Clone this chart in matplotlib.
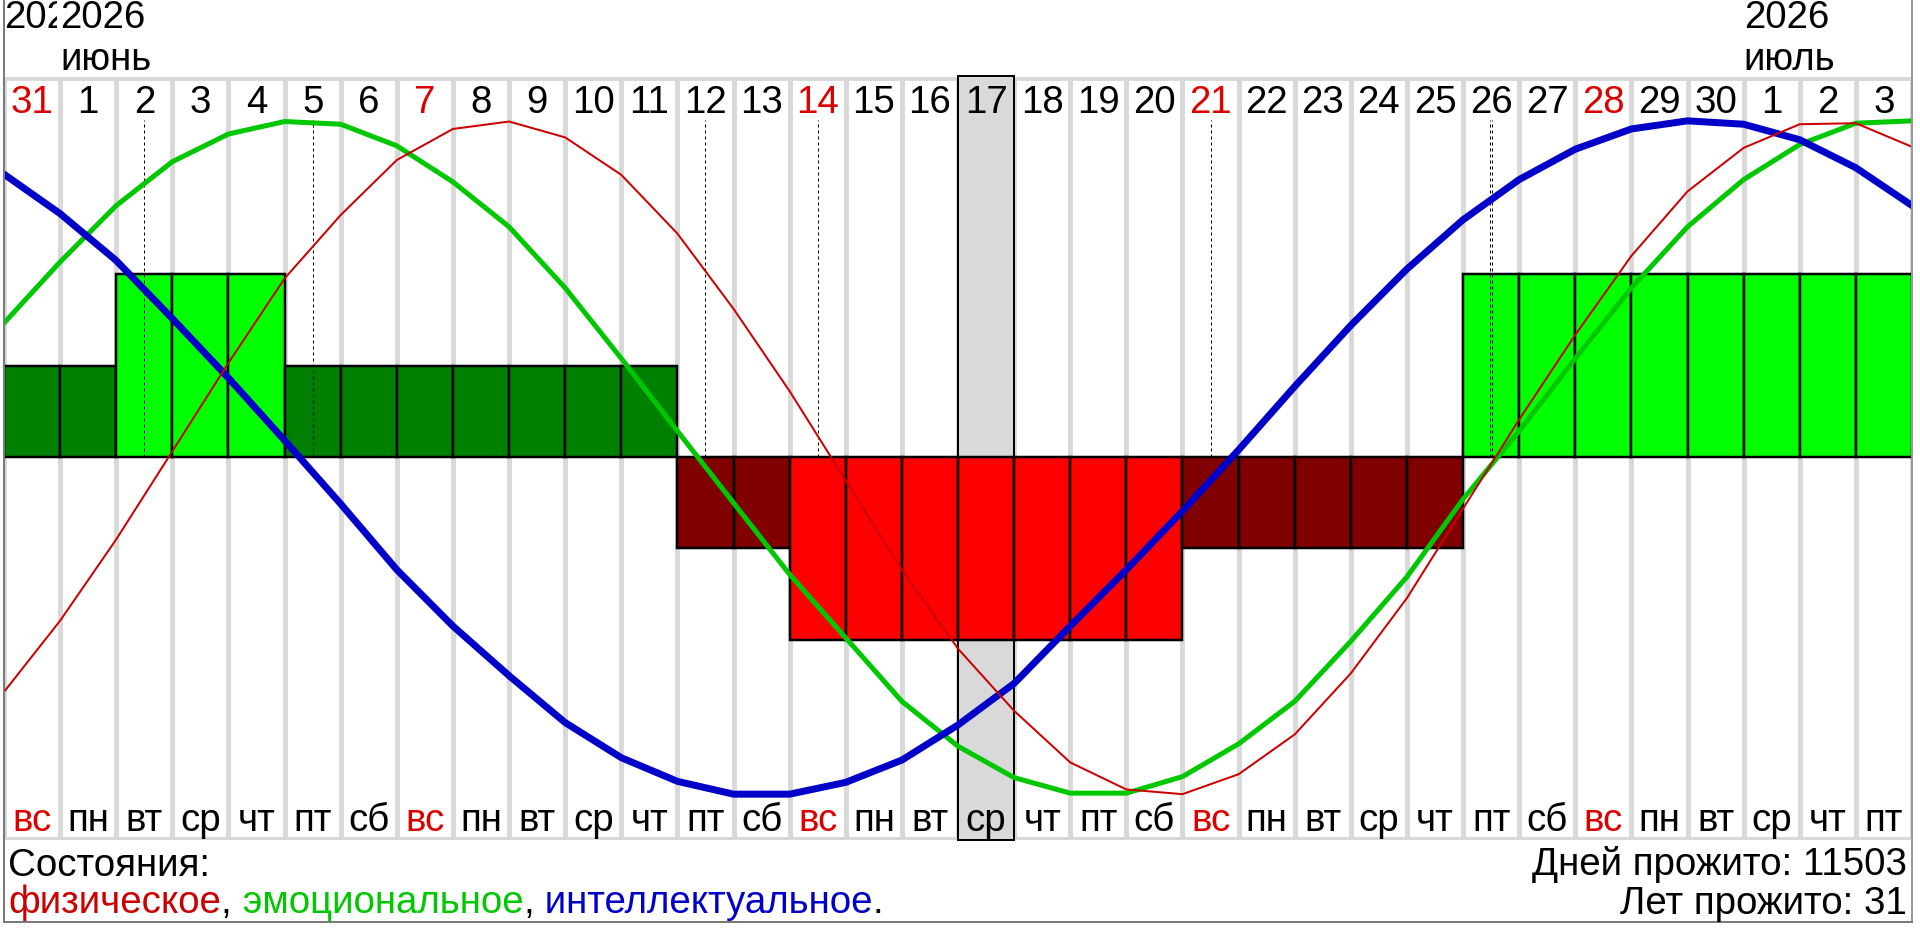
import numpy as np
import matplotlib
matplotlib.use("Agg")
import matplotlib.pyplot as plt
import matplotlib.patches as patches

plt.rcParams['font.family'] = ['Liberation Sans', 'DejaVu Sans']

# --- данные графика ---
day_numbers = [31, 1, 2, 3, 4, 5, 6, 7, 8, 9, 10, 11, 12, 13, 14, 15, 16, 17,
               18, 19, 20, 21, 22, 23, 24, 25, 26, 27, 28, 29, 30, 1, 2, 3]
week_days = ("вс пн вт ср чт пт сб вс пн вт ср чт пт сб вс пн вт ср чт пт сб "
             "вс пн вт ср чт пт сб вс пн вт ср чт пт").split()
# год, месяц, колонка первого дня
month_labels = [("2026", "", 0), ("2026", "июнь", 1), ("2026", "июль", 31)]

# значения биоритмов на границах дней, %
physical = [-69.6, -48.5, -24.4, 1.7, 27.9, 52.9, 71.7, 88.0, 97.2, 99.4, 94.7,
            83.6, 66.2, 43.9, 19.5, -7.0, -33.4, -56.8, -75.2, -90.5, -98.5,
            -99.9, -94.0, -82.2, -64.1, -41.8, -15.3, 11.1, 36.2, 59.6, 78.7,
            91.6, 98.6, 98.9, 91.9]
emotional = [39.7, 57.8, 74.5, 87.5, 95.7, 99.4, 98.6, 92.2, 81.5, 68.2, 50.1,
             29.2, 7.7, -13.6, -34.8, -53.6, -72.4, -85.7, -95.0, -99.6, -99.6,
             -94.7, -85.0, -72.4, -54.6, -35.5, -12.5, 7.7, 29.2, 50.1, 68.2,
             82.2, 92.6, 98.9, 99.6]
intellectual = [83.8, 72.1, 58.2, 41.0, 23.4, 4.9, -13.9, -33.4, -50.1, -64.8,
                -78.7, -89.1, -96.1, -99.9, -99.9, -96.4, -89.8, -79.4, -67.1,
                -50.1, -33.4, -16.0, 2.1, 20.9, 39.0, 55.7, 70.3, 82.2, 91.2,
                97.2, 99.6, 98.6, 94.0, 85.7, 74.5]

# общее состояние дня: 2 / 1 / -1 / -2
day_state = [1, 1, 2, 2, 2, 1, 1, 1, 1, 1, 1, 1, -1, -1, -2, -2, -2, -2, -2,
             -2, -2, -1, -1, -1, -1, -1, 2, 2, 2, 2, 2, 2, 2, 2]
# критические дни (номер колонки), 26-я - двойной
critical_days = [2, 5, 12, 14, 21, 26, 26]
selected_day = 17
days_lived = 11503
years_lived = 31

# --- оформление ---
W, H = 1920, 929
PX = 72 / 100          # pt на пиксель
FS = 27.7
RED_TXT = '#dd0000'
C_PHYS, C_EMO, C_INT = '#cc0000', '#00c800', '#0000c8'
state_colors = {2: '#00ff00', 1: '#008000', -1: '#800000', -2: '#ff0000'}
STATE_UNIT = 27.1

left_px, right_px, top_px, bot_px = 4, 1912, 77, 841
zero_px, amp_px = 458, 337.5

fig = plt.figure(figsize=(W / 100, H / 100), dpi=100)
fig.patch.set_facecolor('white')
ax = fig.add_axes([left_px / W, 1 - bot_px / H,
                   (right_px - left_px) / W, (bot_px - top_px) / H])
n = len(day_numbers)
y0 = (zero_px - bot_px) / amp_px * 100
y1 = (zero_px - top_px) / amp_px * 100
ax.set_xlim(0, n)
ax.set_ylim(y0, y1)
ax.axis('off')

# сетка
ax.vlines(np.arange(n + 1), -113.2, 112, color='#d9d9d9', lw=5 * PX, zorder=1)
ax.hlines([112, -113.2], 0, n, color='#d9d9d9', lw=4 * PX, zorder=1)

# выбранный день
sel = day_numbers.index(selected_day)
ax.add_patch(patches.Rectangle((sel, y0), 1, y1 - y0, facecolor='#d9d9d9',
                               edgecolor='black', lw=2 * PX, zorder=2,
                               clip_on=False))

# состояния
ax.bar(np.arange(n), np.array(day_state) * STATE_UNIT, width=1, align='edge',
       color=[state_colors[s] for s in day_state], edgecolor='black',
       linewidth=2.5 * PX, zorder=3)

# критические дни
counts = {c: critical_days.count(c) for c in set(critical_days)}
for c, cnt in counts.items():
    for j in range(cnt):
        dx = (j - (cnt - 1) / 2) * 0.036
        ax.vlines(c + 0.5 + dx, 0, 100, color='black', lw=1 * PX,
                  linestyles=(0, (3, 3)), zorder=4)

# кривые
x = np.arange(n + 1)
ax.plot(x, emotional, color=C_EMO, lw=5 * PX, zorder=5)
ax.plot(x, intellectual, color=C_INT, lw=7 * PX, zorder=6)
ax.plot(x, physical, color=C_PHYS, lw=2 * PX, zorder=7)

# подписи дней
for i, (d, w) in enumerate(zip(day_numbers, week_days)):
    col = RED_TXT if w == 'вс' else 'black'
    ax.text(i + 0.5, 102.2, str(d), ha='center', va='baseline', fontsize=FS,
            color=col, zorder=8)
    ax.text(i + 0.5, -110.5, w, ha='center', va='baseline', fontsize=FS,
            color=col, zorder=8)

# год и месяц
for year, month, c in month_labels:
    bb = dict(facecolor='white', edgecolor='none',
              boxstyle='square,pad=0.08') if c > 0 else None
    ax.text(c, 127.4, year, ha='left', va='baseline', fontsize=FS,
            bbox=bb, zorder=9 + c)
    if month:
        ax.text(c, 115.0, month, ha='left', va='baseline', fontsize=FS,
                zorder=9 + c)

# нижние надписи и рамка
ov = fig.add_axes([0, 0, 1, 1], zorder=10)
ov.set_xlim(0, W)
ov.set_ylim(H, 0)
ov.axis('off')
ov.plot([3.5, 3.5], [0, 923], color='#7a7a7a', lw=2 * PX)
ov.plot([1912, 1912], [0, 923], color='#9a9a9a', lw=2 * PX)
ov.plot([3.5, 1912], [923, 923], color='#7a7a7a', lw=2 * PX)

ov.text(8, 876, "Состояния:", fontsize=FS, va='baseline', ha='left')
pieces = [("физическое", C_PHYS), (",", 'black'), (" эмоциональное", C_EMO),
          (",", 'black'), (" интеллектуальное", C_INT), (".", 'black')]
prev = ov.text(8, 913, pieces[0][0], color=pieces[0][1], fontsize=FS,
               va='baseline', ha='left')
for txt, col in pieces[1:]:
    prev = ov.annotate(txt, xy=(1, 0), xycoords=prev, va='bottom', ha='left',
                       fontsize=FS, color=col)

ov.text(1907, 875, f"Дней прожито: {days_lived}", fontsize=FS,
        va='baseline', ha='right')
ov.text(1907, 914, f"Лет прожито: {years_lived}", fontsize=FS,
        va='baseline', ha='right')

fig.savefig("out.png", dpi=100, facecolor='white')
